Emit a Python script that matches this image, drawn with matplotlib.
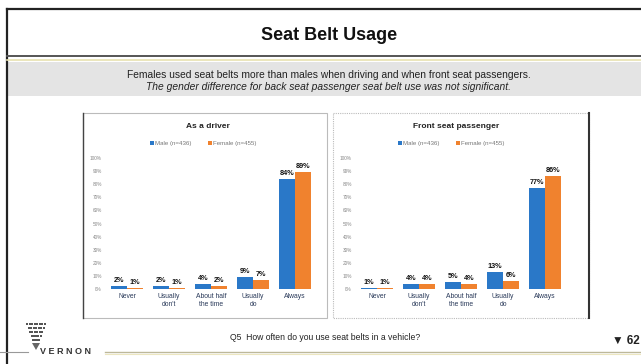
import matplotlib
matplotlib.use("Agg")
import matplotlib.pyplot as plt
from matplotlib.patches import Rectangle, Polygon
import numpy as np

plt.rcParams['font.family'] = ['Liberation Sans', 'DejaVu Sans']

categories = ["Never", "Usually\ndon't", "About half\nthe time", "Usually\ndo", "Always"]
driver_male = [2, 2, 4, 9, 84]
driver_female = [1, 1, 2, 7, 89]
front_male = [1, 4, 5, 13, 77]
front_female = [1, 4, 4, 6, 86]
y_ticks = [0, 10, 20, 30, 40, 50, 60, 70, 80, 90, 100]
legend_labels = ["Male (n=436)", "Female (n=455)"]

W, H = 641, 364
fig = plt.figure(figsize=(W / 100, H / 100), dpi=100)
fig.patch.set_facecolor("white")

def fx(x):
    return x / W

def fy(y):
    return 1 - y / H

bg = fig.add_axes([0, 0, 1, 1])
bg.set_xlim(0, W)
bg.set_ylim(H, 0)
bg.axis("off")

# slide frame
bg.plot([7, W], [9, 9], color="#222222", lw=1.6)
bg.plot([7, 7], [9, 364], color="#222222", lw=1.6)
# title
bg.text(329, 35, "Seat Belt Usage", ha="center", va="center",
        fontsize=13, fontweight="bold", color="#111111")
bg.plot([7, W], [56, 56], color="#555555", lw=1.4)
bg.plot([7, W], [59.5, 59.5], color="#e8e2b0", lw=1.2)
bg.add_patch(Rectangle((8, 62), W - 8, 34, facecolor="#e4e4e4", edgecolor="none"))
bg.text(329, 74.5, "Females used seat belts more than males when driving and when front seat passengers.",
        ha="center", va="center", fontsize=7.4, color="#222222")
bg.text(329, 87, "The gender difference for back seat passenger seat belt use was not significant.",
        ha="center", va="center", fontsize=7.4, color="#222222", style="italic")

# chart panels
bg.add_patch(Rectangle((83, 113), 244, 205, facecolor="white", edgecolor="#bbbbbb", lw=0.8))
bg.plot([83, 83], [113, 318], color="#444444", lw=1.0)
bg.add_patch(Rectangle((333, 113), 256, 205, facecolor="white", edgecolor="#bbbbbb", lw=0.8, ls=(0, (1, 1))))
bg.plot([589, 589], [113, 318], color="#333333", lw=1.5)

# footer
bg.text(325, 337, "Q5  How often do you use seat belts in a vehicle?", ha="center", va="center",
        fontsize=6.2, color="#222222")
bg.text(640, 341, "\u25BC 62", ha="right", va="center", fontsize=8.5, fontweight="bold", color="#222222")
bg.plot([0, 28], [352, 352], color="#999999", lw=0.8)
bg.plot([105, W], [352, 352], color="#bdb89a", lw=1.0)
bg.plot([105, W], [354, 354], color="#ece6c0", lw=0.8)
bg.text(40, 352, "V E R N O N", ha="left", va="center", fontsize=6.5, fontweight="bold", color="#333333")
for r, (n, y) in enumerate([(8, 324), (7, 328), (6, 332), (5, 336), (4, 340)]):
    xs = np.linspace(27 + r * 1.5, 45 - r * 1.5, n)
    bg.scatter(xs, [y] * n, s=1.6, color="#555555", marker="s", linewidths=0)
bg.add_patch(Polygon([[32, 343], [40, 343], [36, 350]], closed=True, facecolor="#666666", edgecolor="none"))

blue = "#2a78c8"
orange = "#f0822e"

def draw_chart(rect, male, female, title, title_x):
    ax = fig.add_axes(rect)
    x = np.arange(len(categories))
    bw = 0.36
    ax.bar(x - 0.19, male, width=bw, color=blue, zorder=2)
    ax.bar(x + 0.19, female, width=bw, color=orange, zorder=2)
    for xi, m, f in zip(x, male, female):
        ax.text(xi - 0.19, m + 1.5, f"{m}%", ha="center", va="bottom", fontsize=5.2,
                fontweight="bold", color="#111111")
        ax.text(xi + 0.19, f + 1.5, f"{f}%", ha="center", va="bottom", fontsize=5.2,
                fontweight="bold", color="#111111")
    ax.set_xlim(-0.5, len(categories) - 0.5)
    ax.set_ylim(0, 100)
    ax.set_yticks(y_ticks)
    ax.set_yticklabels([f"{t}%" for t in y_ticks], fontsize=3.4, color="#888888")
    ax.set_xticks(x)
    ax.set_xticklabels(categories, fontsize=4.9, color="#2a3a5a", linespacing=1.25)
    ax.tick_params(length=0, pad=3)
    for s in ax.spines.values():
        s.set_visible(False)
    ax.set_facecolor("none")
    bg.text(title_x, 126, title, ha="center", va="center", fontsize=6, fontweight="bold", color="#222222")
    bg.scatter([title_x - 56], [143], s=5, marker="s", color=blue, linewidths=0)
    bg.text(title_x - 53, 143, legend_labels[0], ha="left", va="center", fontsize=4.4, color="#777777")
    bg.scatter([title_x + 2], [143], s=5, marker="s", color=orange, linewidths=0)
    bg.text(title_x + 5, 143, legend_labels[1], ha="left", va="center", fontsize=4.4, color="#777777")
    return ax

draw_chart([fx(106), fy(289), fx(210), (289 - 158) / H], driver_male, driver_female, "As a driver", 208)
draw_chart([fx(356), fy(289), fx(210), (289 - 158) / H], front_male, front_female, "Front seat passenger", 456)

fig.savefig("out.png", dpi=100)
